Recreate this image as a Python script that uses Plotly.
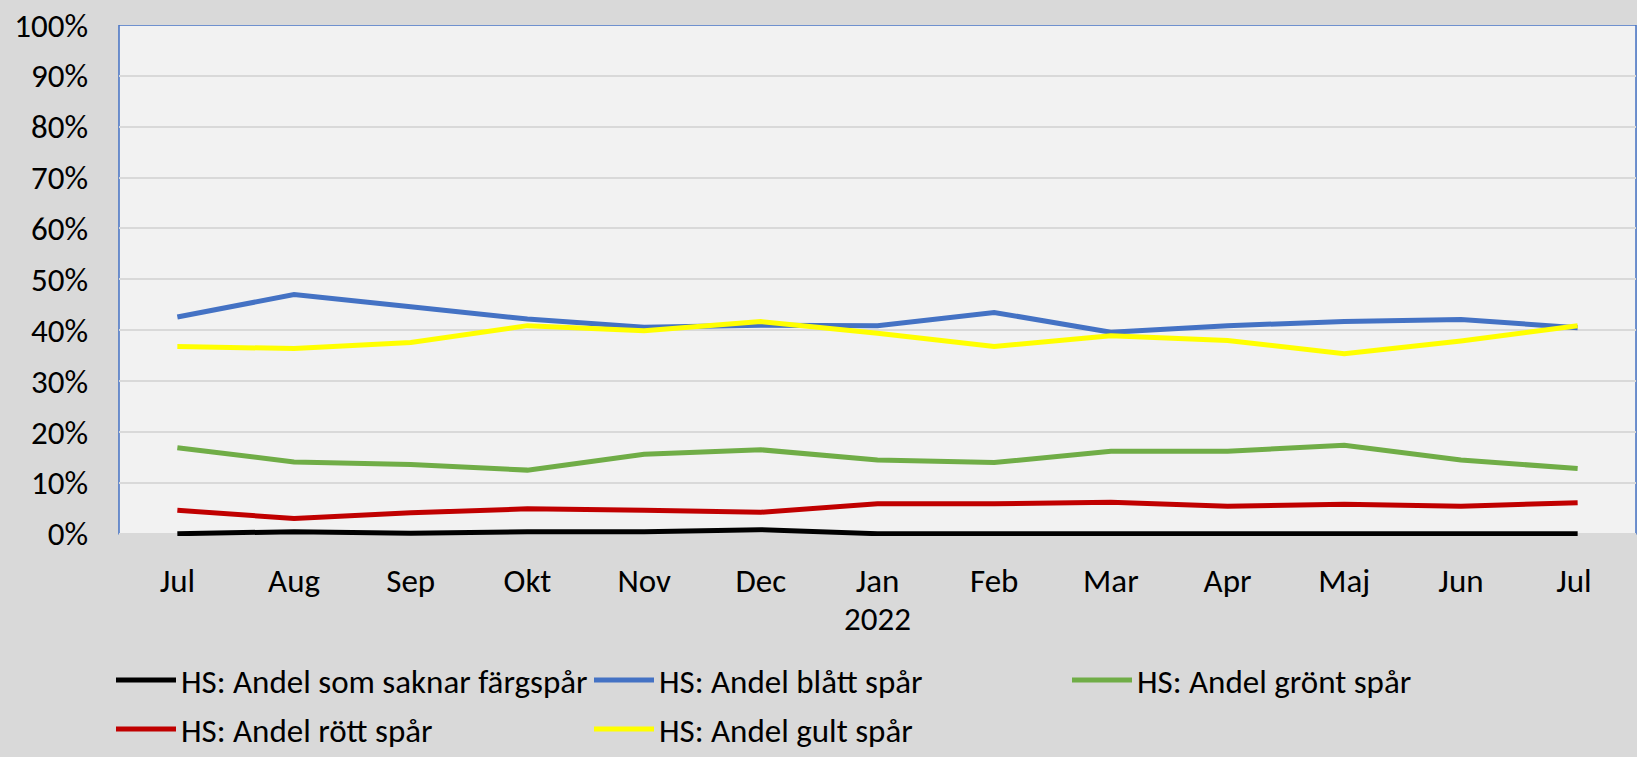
import plotly.graph_objects as go

months = ["Jul", "Aug", "Sep", "Okt", "Nov", "Dec", "Jan", "Feb", "Mar", "Apr", "Maj", "Jun", "Jul "]
year_label = "2022"
year_at = "Jan"

saknar = [0.000, 0.004, 0.001, 0.004, 0.004, 0.008, 0.000, 0.000, 0.000, 0.000, 0.000, 0.000, 0.000]
blatt  = [0.426, 0.470, 0.446, 0.422, 0.406, 0.410, 0.409, 0.435, 0.396, 0.409, 0.417, 0.421, 0.405]
gront  = [0.169, 0.141, 0.136, 0.125, 0.156, 0.165, 0.145, 0.140, 0.162, 0.162, 0.174, 0.145, 0.128]
rott   = [0.046, 0.030, 0.041, 0.049, 0.046, 0.042, 0.059, 0.059, 0.062, 0.054, 0.058, 0.054, 0.061]
gult   = [0.368, 0.364, 0.376, 0.409, 0.399, 0.417, 0.394, 0.368, 0.389, 0.380, 0.354, 0.379, 0.409]

names = ["HS: Andel som saknar färgspår", "HS: Andel blått spår", "HS: Andel grönt spår",
         "HS: Andel rött spår", "HS: Andel gult spår"]
colors = ["#000000", "#4472C4", "#70AD47", "#C00000", "#FFFF00"]
series = [saknar, blatt, gront, rott, gult]
legend_of = ["legend", "legend", "legend", "legend2", "legend2"]

FONT = "Carlito, Calibri, Lato, sans-serif"
FS = 33

fig = go.Figure()
for name, col, vals, lg in zip(names, colors, series, legend_of):
    fig.add_trace(go.Scatter(x=months, y=vals, name=name, mode="lines",
                             line=dict(color=col, width=5), legend=lg))

legend_common = dict(orientation="h", xref="container", yref="container",
                     xanchor="left", bgcolor="rgba(0,0,0,0)",
                     font=dict(size=FS), entrywidth=403, entrywidthmode="pixels", itemwidth=60)

fig.update_layout(
    width=1637, height=757,
    paper_bgcolor="#D9D9D9", plot_bgcolor="rgba(0,0,0,0)",
    margin=dict(l=119, r=1, t=25, b=221),
    font=dict(family=FONT, size=FS, color="#000000"),
    xaxis=dict(type="category", range=[-0.5, 12.5], showgrid=False, zeroline=False,
               showline=False, ticks="", tickfont=dict(size=FS), ticklabelstandoff=22,
               automargin=False),
    yaxis=dict(range=[-0.0045, 1], tickvals=[i / 10 for i in range(11)], tickformat=".0%",
               showgrid=True, gridcolor="#D9D9D9", gridwidth=1.5, zeroline=False,
               showline=False, ticks="", tickfont=dict(size=FS), ticklabelstandoff=30,
               automargin=False),
    showlegend=True,
    legend=dict(x=(118 - 7) / 1637, y=1 - 680 / 757, yanchor="middle", **legend_common),
    legend2=dict(x=(118 - 7) / 1637, y=-0.009, yanchor="bottom", **legend_common),
    shapes=[dict(type="rect", xref="paper", yref="y", x0=0, x1=1, y0=0, y1=1,
                 fillcolor="#F2F2F2", line=dict(color="#4472C4", width=1.5), layer="below")],
    annotations=[dict(text=year_label, x=year_at, xref="x", y=-0.162, yref="paper",
                      showarrow=False, yanchor="middle", font=dict(size=FS))],
)

fig.write_html(
    "out.html",
    config={"displayModeBar": False},
    post_script="document.body.style.margin='0';document.body.style.background='#D9D9D9';",
)
